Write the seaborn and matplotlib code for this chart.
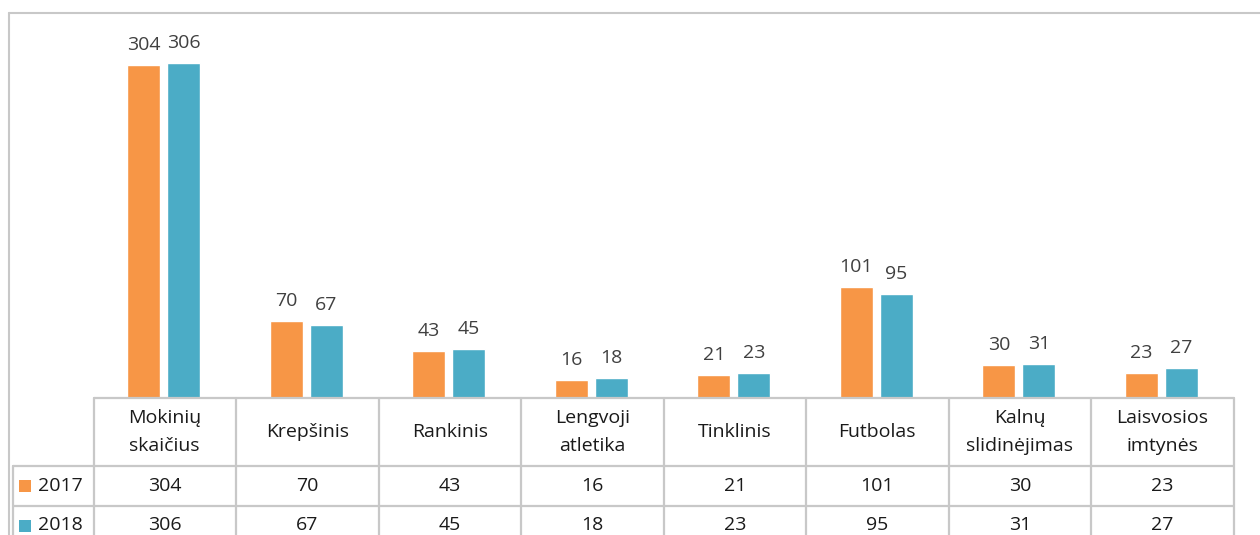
import pandas as pd
import matplotlib.pyplot as plt
import seaborn as sns
from matplotlib.lines import Line2D
from matplotlib.patches import Rectangle
from matplotlib.transforms import blended_transform_factory

# data
categories = ["Mokinių skaičius", "Krepšinis", "Rankinis", "Lengvoji atletika",
              "Tinklinis", "Futbolas", "Kalnų slidinėjimas", "Laisvosios imtynės"]
header_labels = ["Mokinių\nskaičius", "Krepšinis", "Rankinis", "Lengvoji\natletika",
                 "Tinklinis", "Futbolas", "Kalnų\nslidinėjimas", "Laisvosios\nimtynės"]
years = ["2017", "2018"]
values_2017 = [304, 70, 43, 16, 21, 101, 30, 23]
values_2018 = [306, 67, 45, 18, 23, 95, 31, 27]
colors = ["#F79646", "#4BACC6"]

df = pd.DataFrame({
    "Kategorija": categories * 2,
    "Metai": [years[0]] * len(categories) + [years[1]] * len(categories),
    "Reikšmė": values_2017 + values_2018,
})

sns.set_style("white")
plt.rcParams["font.family"] = ["Open Sans", "DejaVu Sans"]
fs = 14

W, H = 1260, 535
fig = plt.figure(figsize=(W / 100, H / 100), dpi=100)


def fx(px):
    return px / W


def fy(py):
    return 1 - py / H


# plot area in pixel layout of the reference
left_px, right_px, base_px, top_px = 92.5, 1232.5, 398, 14.7
ax = fig.add_axes([fx(left_px), fy(base_px), (right_px - left_px) / W, (base_px - top_px) / H])

sns.barplot(data=df, x="Kategorija", y="Reikšmė", hue="Metai", palette=colors,
            width=0.56, gap=0.175, saturation=1, legend=False, ax=ax)
ax.set_xlim(-0.5, len(categories) - 0.5)
ax.set_ylim(0, 350)
ax.set_axis_off()

for cont in ax.containers:
    ax.bar_label(cont, padding=8, fontsize=fs, color="#404040")

# data table under the bars
grid_color = "#C8C8C8"
lw = 1.6
trans = blended_transform_factory(ax.transData, fig.transFigure)
col_w = (right_px - left_px) / len(categories)
x_leg = -0.5 - (left_px - 13) / col_w
x_end = len(categories) - 0.5
off = 1 / col_w  # table grid sits 1px right of the bar grid

fig.add_artist(Line2D([-0.5 + off, x_end + off], [fy(398), fy(398)], transform=trans, color=grid_color, lw=lw))
for yy in [466, 505.5]:
    fig.add_artist(Line2D([x_leg, x_end + off], [fy(yy), fy(yy)], transform=trans, color=grid_color, lw=lw))
for k in range(len(categories) + 1):
    xk = -0.5 + k + off
    fig.add_artist(Line2D([xk, xk], [fy(398), 0], transform=trans, color=grid_color, lw=lw))
fig.add_artist(Line2D([x_leg, x_leg], [fy(466), 0], transform=trans, color=grid_color, lw=lw))

for i, lab in enumerate(header_labels):
    ax.text(i + off, fy(432), lab, transform=trans, ha="center", va="center",
            fontsize=fs, linespacing=1.75, color="#1a1a1a")

row_y = [486, 525.5]
for r, vals in enumerate([values_2017, values_2018]):
    for i, v in enumerate(vals):
        ax.text(i + off, fy(row_y[r]), str(v), transform=trans, ha="center", va="center",
                fontsize=fs, color="#1a1a1a")
    # legend key in the table
    fig.add_artist(Rectangle((fx(19), fy(row_y[r] + 6)), 12 / W, 12 / H,
                             transform=fig.transFigure, color=colors[r], lw=0))
    fig.text(fx(38), fy(row_y[r]), years[r], ha="left", va="center",
             fontsize=fs, color="#1a1a1a")

# outer chart frame
fig.add_artist(Line2D([fx(8.5), 1], [fy(12.5), fy(12.5)], transform=fig.transFigure, color=grid_color, lw=1.5))
fig.add_artist(Line2D([fx(8.5), fx(8.5)], [fy(12.5), 0], transform=fig.transFigure, color=grid_color, lw=1.5))

fig.savefig("out.png", dpi=100)
